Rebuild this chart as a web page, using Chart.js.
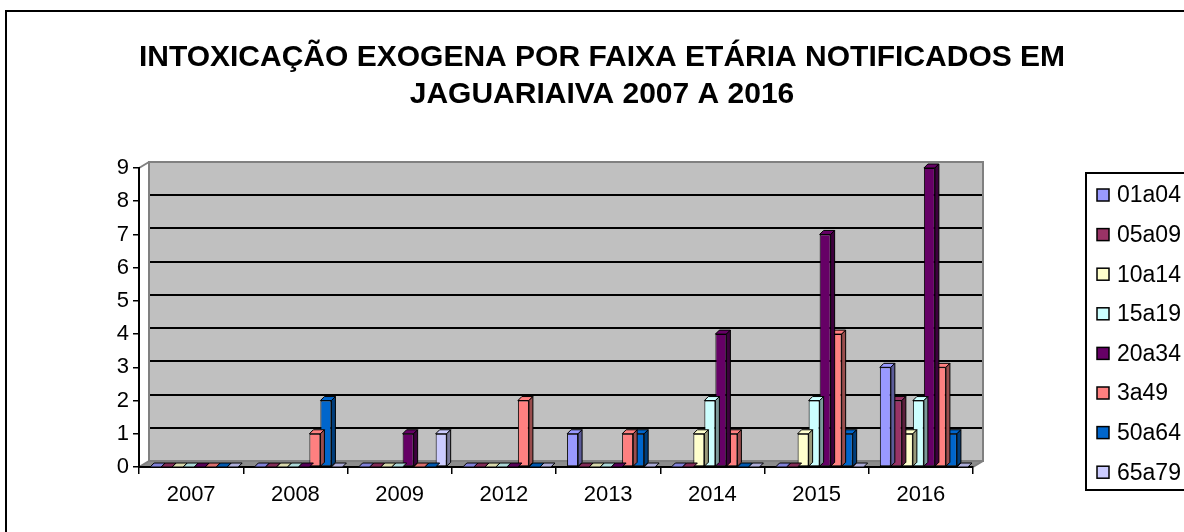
<!DOCTYPE html>
<html>
<head>
<meta charset="utf-8">
<script src="https://cdn.jsdelivr.net/npm/chart.js@4.4.1/dist/chart.umd.min.js"></script>
<style>
  html, body { margin: 0; padding: 0; background: #fff; overflow: hidden; }
  #wrap { position: relative; width: 1184px; height: 532px; }
</style>
</head>
<body>
<div id="wrap"><canvas id="chart" width="1184" height="532"></canvas></div>
<script>
// Data
const categories = ['2007', '2008', '2009', '2012', '2013', '2014', '2015', '2016'];
const ageGroups = ['01a04', '05a09', '10a14', '15a19', '20a34', '3a49', '50a64', '65a79'];
const s01a04 = [0, 0, 0, 0, 1, 0, 0, 3];
const s05a09 = [0, 0, 0, 0, 0, 0, 0, 2];
const s10a14 = [0, 0, 0, 0, 0, 1, 1, 1];
const s15a19 = [0, 0, 0, 0, 0, 2, 2, 2];
const s20a34 = [0, 0, 1, 0, 0, 4, 7, 9];
const s3a49  = [0, 1, 0, 2, 1, 1, 4, 3];
const s50a64 = [0, 2, 0, 0, 1, 0, 1, 1];
const s65a79 = [0, 0, 1, 0, 0, 0, 0, 0];
const yTicks = [0, 1, 2, 3, 4, 5, 6, 7, 8, 9];
const titleLines = ['INTOXICAÇÃO EXOGENA POR FAIXA ETÁRIA NOTIFICADOS EM', 'JAGUARIAIVA 2007 A 2016'];

const seriesValues = [s01a04, s05a09, s10a14, s15a19, s20a34, s3a49, s50a64, s65a79];
const colors = ['#9999FF', '#993366', '#FFFFCC', '#CCFFFF', '#660066', '#FF8080', '#0066CC', '#CCCCFF'];
const FONT = '"Liberation Sans", Arial, sans-serif';

// 3D look: back wall offset and bar depth
const WALL_DX = 10, WALL_DY = -6;
const BAR_DX = 4, BAR_DY = -4;
const BAR_SHIFT = 3;

function shade(hex, f) {
  const n = parseInt(hex.slice(1), 16);
  const r = Math.round(((n >> 16) & 255) * f);
  const g = Math.round(((n >> 8) & 255) * f);
  const b = Math.round((n & 255) * f);
  return `rgb(${r},${g},${b})`;
}

function poly(ctx, pts, fill) {
  ctx.beginPath();
  ctx.moveTo(pts[0][0], pts[0][1]);
  for (let i = 1; i < pts.length; i++) ctx.lineTo(pts[i][0], pts[i][1]);
  ctx.closePath();
  ctx.fillStyle = fill;
  ctx.fill();
  ctx.stroke();
}

const excel3d = {
  id: 'excel3d',
  beforeDraw(chart) {
    const { ctx, chartArea: a } = chart;
    const ys = chart.scales.y;
    ctx.save();
    // outer frame
    ctx.strokeStyle = '#000';
    ctx.lineWidth = 2;
    ctx.strokeRect(6, 11, 1300, 700);

    // back wall
    ctx.fillStyle = '#C0C0C0';
    ctx.fillRect(a.left + WALL_DX, a.top + WALL_DY, a.width, a.height);
    // floor
    ctx.fillStyle = '#8C8C8C';
    ctx.beginPath();
    ctx.moveTo(a.left, a.bottom);
    ctx.lineTo(a.right, a.bottom);
    ctx.lineTo(a.right + WALL_DX, a.bottom + WALL_DY);
    ctx.lineTo(a.left + WALL_DX, a.bottom + WALL_DY);
    ctx.closePath();
    ctx.fill();

    // gridlines on the wall
    ctx.strokeStyle = '#000';
    ctx.lineWidth = 2;
    yTicks.slice(1, -1).forEach(v => {
      const y = Math.round(ys.getPixelForValue(v) + WALL_DY);
      ctx.beginPath();
      ctx.moveTo(a.left + WALL_DX, y);
      ctx.lineTo(a.right + WALL_DX, y);
      ctx.stroke();
    });

    // wall edges
    ctx.strokeStyle = '#808080';
    ctx.lineWidth = 2;
    ctx.strokeRect(a.left + WALL_DX, a.top + WALL_DY, a.width, a.height);
    ctx.beginPath();
    ctx.moveTo(a.left, a.top);
    ctx.lineTo(a.left + WALL_DX, a.top + WALL_DY);
    ctx.moveTo(a.left, a.bottom);
    ctx.lineTo(a.left + WALL_DX, a.bottom + WALL_DY);
    ctx.moveTo(a.right, a.bottom);
    ctx.lineTo(a.right + WALL_DX, a.bottom + WALL_DY);
    ctx.stroke();
    ctx.restore();
  },
  beforeDatasetsDraw(chart) {
    chart.ctx.save();
    chart.ctx.translate(BAR_SHIFT, 0);
  },
  afterDatasetDraw(chart, args) {
    const { ctx } = chart;
    const meta = args.meta;
    const col = colors[args.index];
    ctx.save();
    ctx.strokeStyle = '#000';
    ctx.lineWidth = 1;
    meta.data.forEach((bar, i) => {
      const v = seriesValues[args.index][i];
      const l = bar.x - bar.width / 2;
      const r = bar.x + bar.width / 2;
      const top = bar.y;
      const base = bar.base;
      // top face (flat stub for zero values)
      poly(ctx, [[l, top], [l + BAR_DX, top + BAR_DY], [r + BAR_DX, top + BAR_DY], [r, top]], v > 0 ? col : shade(col, 0.85));
      if (v > 0) {
        poly(ctx, [[r, top], [r + BAR_DX, top + BAR_DY], [r + BAR_DX, base + BAR_DY], [r, base]], shade(col, 0.6));
      }
    });
    ctx.restore();
  },
  afterDatasetsDraw(chart) {
    chart.ctx.restore();
  },
  afterDraw(chart) {
    const { ctx } = chart;
    ctx.save();
    // title
    ctx.fillStyle = '#000';
    ctx.font = `bold 30px ${FONT}`;
    ctx.textAlign = 'center';
    ctx.textBaseline = 'middle';
    ctx.fillText(titleLines[0], 602, 58);
    ctx.fillText(titleLines[1], 602, 95);

    // legend
    ctx.strokeStyle = '#000';
    ctx.lineWidth = 2;
    ctx.strokeRect(1086, 173, 200, 317);
    ctx.font = `23px ${FONT}`;
    ctx.textAlign = 'left';
    ageGroups.forEach((name, i) => {
      const cy = 195 + i * 39.6;
      ctx.fillStyle = colors[i];
      ctx.fillRect(1097, cy - 6, 12, 12);
      ctx.lineWidth = 1.5;
      ctx.strokeRect(1097, cy - 6, 12, 12);
      ctx.fillStyle = '#000';
      ctx.fillText(name, 1117, cy + 1);
    });
    ctx.restore();
  }
};

function initChart() {
  const ctx = document.getElementById('chart').getContext('2d');
  new Chart(ctx, {
    type: 'bar',
    data: {
      labels: categories,
      datasets: ageGroups.map((name, i) => ({
        label: name,
        data: seriesValues[i],
        backgroundColor: colors[i],
        borderColor: '#000',
        borderWidth: 1,
        borderSkipped: false,
        categoryPercentage: 0.845,
        barPercentage: 1.0,
        clip: false
      }))
    },
    options: {
      responsive: false,
      animation: false,
      events: [],
      layout: { padding: { left: 99, right: 211, top: 168, bottom: 0 } },
      plugins: {
        legend: { display: false },
        title: { display: false },
        tooltip: { enabled: false }
      },
      scales: {
        x: {
          afterFit: s => { s.height = 65; },
          border: { display: true, color: '#000', width: 2 },
          grid: { drawOnChartArea: false, drawTicks: true, tickLength: 7, color: '#000', lineWidth: 1.5 },
          ticks: { color: '#000', font: { family: FONT, size: 22 }, padding: 8 }
        },
        y: {
          min: 0,
          max: 9,
          afterFit: s => { s.width = 40; },
          border: { display: true, color: '#000', width: 2 },
          grid: { drawOnChartArea: false, drawTicks: true, tickLength: 6, color: '#000', lineWidth: 1.5 },
          ticks: { stepSize: 1, color: '#000', font: { family: FONT, size: 22 }, padding: 4 }
        }
      }
    },
    plugins: [excel3d]
  });
}

window.addEventListener('load', initChart);
</script>
</body>
</html>
